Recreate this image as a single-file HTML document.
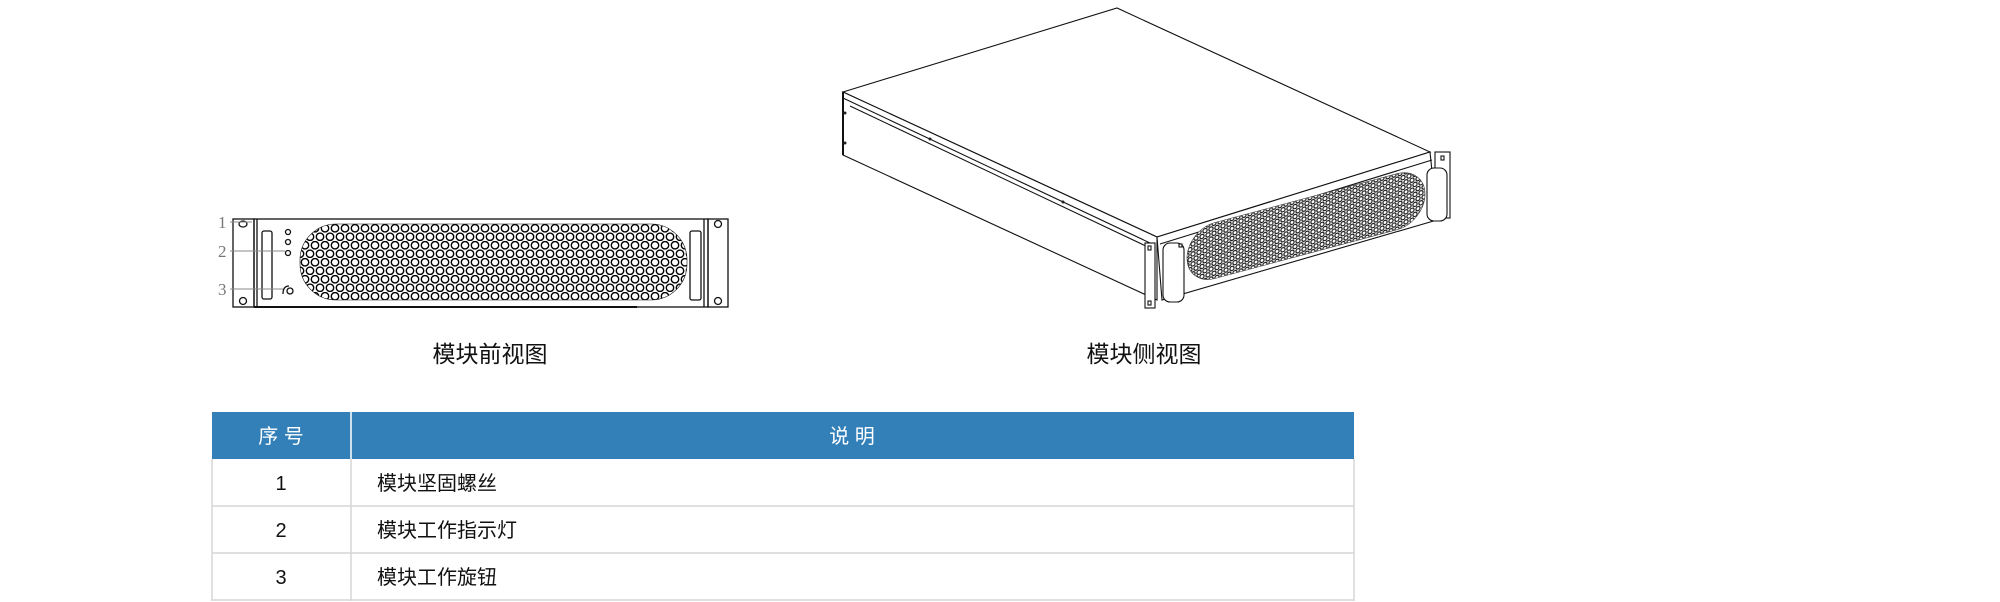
<!DOCTYPE html>
<html><head><meta charset="utf-8"><style>
html,body{margin:0;padding:0;background:#fff;}
body{width:2000px;height:602px;position:relative;overflow:hidden;font-family:"Liberation Sans","Noto Sans CJK SC",sans-serif;}
svg{position:absolute;left:0;top:0;}
</style></head><body>
<svg width="2000" height="602" viewBox="0 0 2000 602" xmlns="http://www.w3.org/2000/svg">
<defs>
<pattern id="hex" x="300" y="224" width="10" height="17" patternUnits="userSpaceOnUse">
<rect width="10" height="17" fill="#fff"/>
<circle cx="5" cy="4.25" r="3.7" fill="#fff" stroke="#000" stroke-width="1.4"/>
<circle cx="0" cy="12.75" r="3.7" fill="#fff" stroke="#000" stroke-width="1.4"/>
<circle cx="10" cy="12.75" r="3.7" fill="#fff" stroke="#000" stroke-width="1.4"/>
</pattern>
<pattern id="hex2" width="6" height="10" patternUnits="userSpaceOnUse">
<rect width="6" height="10" fill="#fff"/>
<circle cx="3" cy="2.5" r="2.1" fill="none" stroke="#111" stroke-width="1.2"/>
<circle cx="0" cy="7.5" r="2.1" fill="none" stroke="#111" stroke-width="1.2"/>
<circle cx="6" cy="7.5" r="2.1" fill="none" stroke="#111" stroke-width="1.2"/>
</pattern>
</defs>

<!-- FRONT VIEW -->
<g stroke="#111" fill="none" stroke-width="1.3">
<rect x="233" y="219" width="21" height="88"/>
<rect x="708" y="219" width="20" height="88"/>
<rect x="254" y="219" width="454" height="88"/>
<line x1="257" y1="219" x2="257" y2="307"/>
<line x1="704" y1="219" x2="704" y2="307"/>
<line x1="254" y1="307" x2="637" y2="307" stroke-width="2"/>
<rect x="262" y="231" width="10" height="68" rx="2"/>
<rect x="690" y="231" width="11" height="69" rx="2"/>
<circle cx="243" cy="301" r="3.5"/>
<circle cx="718" cy="224" r="3.5"/>
<circle cx="718" cy="301" r="3.5"/>
<ellipse cx="243" cy="224" rx="4" ry="3"/>
<circle cx="288" cy="232" r="2.5"/>
<circle cx="288" cy="242" r="2.5"/>
<circle cx="288" cy="253" r="2.5"/>
<circle cx="290" cy="291" r="3"/>
<path d="M283 294 q0 -8 6 -8"/>
</g>
<rect x="300" y="224" width="387" height="76" rx="36" ry="36" fill="url(#hex)" stroke="#111" stroke-width="0.6"/>
<g stroke="#888" stroke-width="1">
<line x1="230" y1="222" x2="252" y2="222"/>
<line x1="230" y1="251" x2="285" y2="251"/>
<line x1="230" y1="289" x2="283" y2="289"/>
</g>
<g font-family="Liberation Serif, serif" font-size="17" fill="#777">
<text x="218" y="228">1</text>
<text x="218" y="257">2</text>
<text x="218" y="295">3</text>
</g>
<text x="490" y="362" font-size="23" text-anchor="middle" fill="#111">模块前视图</text>

<!-- SIDE VIEW -->
<g stroke="#111" fill="#fff" stroke-width="1.1">
<polygon points="843,92 1117,8 1430,152 1157,237"/>
<polygon points="843,92 1157,237 1157,300 843,155"/>
<line x1="843" y1="98" x2="1150" y2="243"/>
<line x1="850" y1="106" x2="1150" y2="248"/>
<polygon points="1157,237 1430,152 1437,220 1162,300"/>
<line x1="1160" y1="244" x2="1432" y2="160"/>
<rect x="1145" y="243" width="10" height="65"/>
<rect x="1435" y="152" width="15" height="66"/>
<rect x="1163" y="243" width="21" height="59" rx="7"/>
<rect x="1427" y="168" width="20" height="53" rx="7"/>
<rect x="1148" y="246" width="3" height="4"/>
<rect x="1148" y="301" width="3" height="4"/>
<rect x="1441" y="156" width="3" height="4"/>
<rect x="1179" y="244" width="3" height="3"/>
</g>
<line x1="843" y1="92" x2="843" y2="155" stroke="#111" stroke-width="2"/>
<g fill="#222">
<circle cx="845" cy="113" r="1.5"/><circle cx="845" cy="143" r="1.5"/>
<circle cx="930" cy="139" r="1.5"/><circle cx="1063" cy="202" r="1.5"/>
</g>
<g transform="translate(1187,258) skewY(-15)">
<rect x="0" y="-28" width="238" height="56" rx="28" ry="28" fill="url(#hex2)" stroke="#333" stroke-width="0.6"/>
</g>
<text x="1144" y="362" font-size="23" text-anchor="middle" fill="#111">模块侧视图</text>

<!-- TABLE -->
<rect x="212" y="412" width="1142" height="47" fill="#3380b8"/>
<line x1="351" y1="412" x2="351" y2="459" stroke="#cfe0ee" stroke-width="2"/>
<g stroke="#d6d6d6" stroke-width="1.5" fill="none">
<line x1="212" y1="506" x2="1354" y2="506"/>
<line x1="212" y1="553" x2="1354" y2="553"/>
<line x1="212" y1="600" x2="1354" y2="600"/>
<line x1="212" y1="459" x2="212" y2="601"/>
<line x1="351" y1="459" x2="351" y2="601"/>
<line x1="1354" y1="459" x2="1354" y2="601"/>
</g>
<g font-size="20" fill="#fff" text-anchor="middle">
<text x="281" y="443">序 号</text>
<text x="852" y="443">说 明</text>
</g>
<g font-size="20" fill="#111">
<text x="281" y="490" text-anchor="middle">1</text>
<text x="281" y="537" text-anchor="middle">2</text>
<text x="281" y="584" text-anchor="middle">3</text>
<text x="377" y="490">模块坚固螺丝</text>
<text x="377" y="537">模块工作指示灯</text>
<text x="377" y="584">模块工作旋钮</text>
</g>
</svg>
</body></html>
